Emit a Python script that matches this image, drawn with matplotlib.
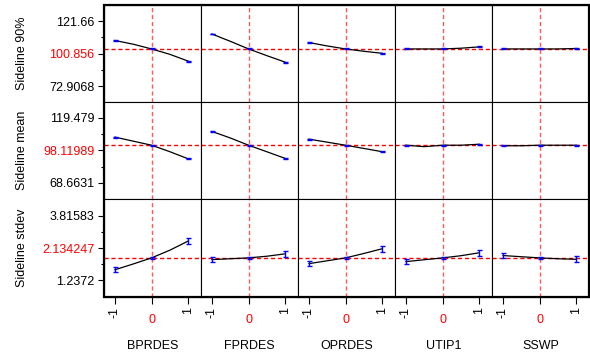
"""Prediction profiler grid: three Sideline responses against five factors."""

import matplotlib
matplotlib.use('Agg')
import matplotlib.pyplot as plt
from matplotlib.patches import Rectangle

plt.rcParams['font.family'] = ['Liberation Sans', 'DejaVu Sans']
plt.rcParams['font.size'] = 9

factors = ['BPRDES', 'FPRDES', 'OPRDES', 'UTIP1', 'SSWP']
levels = [-1, -0.5, 0, 0.5, 1]

resp_names = ['Sideline 90%', 'Sideline mean', 'Sideline stdev']
resp_low = [72.9068, 68.6631, 1.2372]
resp_high = [121.66, 119.479, 3.81583]
resp_current = [100.856, 98.11989, 2.134247]
low_labels = ['72.9068', '68.6631', '1.2372']
high_labels = ['121.66', '119.479', '3.81583']
current_labels = ['100.856', '98.11989', '2.134247']

# One profile per factor (values at levels)
p90_profiles = [
    [107.2, 104.4, 100.856, 96.8, 91.7],
    [112.05, 106.6, 100.856, 95.8, 90.95],
    [105.66, 103.1, 100.856, 99.1, 97.58],
    [100.856, 100.856, 100.856, 101.4, 102.4],
    [100.856, 100.856, 100.856, 100.856, 101.2],
]
mean_profiles = [
    [104.47, 101.3, 98.11989, 93.04, 87.48],
    [108.92, 103.8, 98.11989, 93.0, 87.8],
    [102.88, 100.5, 98.11989, 95.6, 93.04],
    [98.11989, 97.0, 98.11989, 98.11989, 98.9],
    [97.7, 97.7, 98.11989, 98.11989, 98.11989],
]
stdev_profiles = [
    [1.663, 1.893, 2.134247, 2.44, 2.803],
    [2.066, 2.10, 2.134247, 2.20, 2.295],
    [1.905, 2.02, 2.134247, 2.31, 2.497],
    [1.985, 2.06, 2.134247, 2.22, 2.336],
    [2.227, 2.18, 2.134247, 2.10, 2.078],
]
# error bar half widths at -1, 0, 1
p90_err = [0.35, 0.35, 0.35]
mean_err = [0.35, 0.35, 0.35]
stdev_err = [0.09, 0.04, 0.125]

profiles = [p90_profiles, mean_profiles, stdev_profiles]
errors = [p90_err, mean_err, stdev_err]

W, H = 590, 358
fig = plt.figure(figsize=(W / 100, H / 100), dpi=100)

col_x = [104, 201, 298, 395, 492]
col_w = 97
row_y = [5, 101.7, 199.3]
row_h = 97.4

for r in range(3):
    iv = (resp_high[r] - resp_low[r]) / 4
    for c in range(5):
        ax = fig.add_axes([col_x[c] / W, 1 - (row_y[r] + row_h) / H,
                           col_w / W, row_h / H])
        ax.set_xlim(-1.3, 1.35)
        ax.set_ylim(resp_low[r] - iv, resp_high[r] + iv)
        for s in ax.spines.values():
            s.set_linewidth(0.8)

        ax.axvline(0, color='#ff5a5a', lw=1, dashes=(3, 2), zorder=1)
        ax.axhline(resp_current[r], color='red', lw=1, dashes=(3, 2), zorder=1)

        ys = profiles[r][c]
        ax.plot(levels, ys, color='black', lw=0.9, zorder=2)
        ends = [ys[0], ys[2], ys[4]]
        ax.errorbar([-1, 0, 1], ends, yerr=errors[r], fmt='none',
                    ecolor='blue', elinewidth=1, capsize=1.8, capthick=1,
                    zorder=3)

        # y axis on the first column only
        if c == 0:
            ax.set_yticks([resp_low[r], resp_low[r] + 2 * iv, resp_high[r]])
            ax.set_yticklabels([low_labels[r], current_labels[r], high_labels[r]])
            ax.get_yticklabels()[1].set_color('red')
            ax.set_yticks([resp_low[r] + iv, resp_low[r] + 3 * iv], minor=True)
            ax.tick_params(axis='y', which='major', direction='out', length=4.3,
                           width=0.8, pad=2.5)
            ax.tick_params(axis='y', which='minor', direction='out', length=2.2,
                           width=0.8)
        else:
            ax.set_yticks([])

        # x axis on the bottom row only
        if r == 2:
            ax.set_xticks([-1, 0, 1])
            ax.set_xticklabels([])
            ax.tick_params(axis='x', direction='out', length=5, width=0.8)
            for xv, lbl in [(-1, '-1'), (1, '1')]:
                ax.annotate(lbl, xy=(xv, 0), xycoords=('data', 'axes fraction'),
                            xytext=(0, -7.4), textcoords='offset points',
                            rotation=90, ha='center', va='top')
            ax.annotate('0', xy=(0, 0), xycoords=('data', 'axes fraction'),
                        xytext=(0, -16.8), textcoords='offset points',
                        color='red', ha='center', va='center')
        else:
            ax.set_xticks([])

# thick outer frame
fig.patches.append(Rectangle((104 / W, 1 - 296.7 / H), 485 / W, 291.7 / H,
                             transform=fig.transFigure, fill=False,
                             edgecolor='black', lw=1.6, zorder=10))

for c in range(5):
    fig.text((col_x[c] + col_w / 2) / W, 1 - 346 / H, factors[c],
             ha='center', va='center')

for r in range(3):
    fig.text(22 / W, 1 - (row_y[r] + row_h / 2) / H, resp_names[r],
             rotation=90, ha='center', va='center')

fig.savefig('out.png', dpi=100)
